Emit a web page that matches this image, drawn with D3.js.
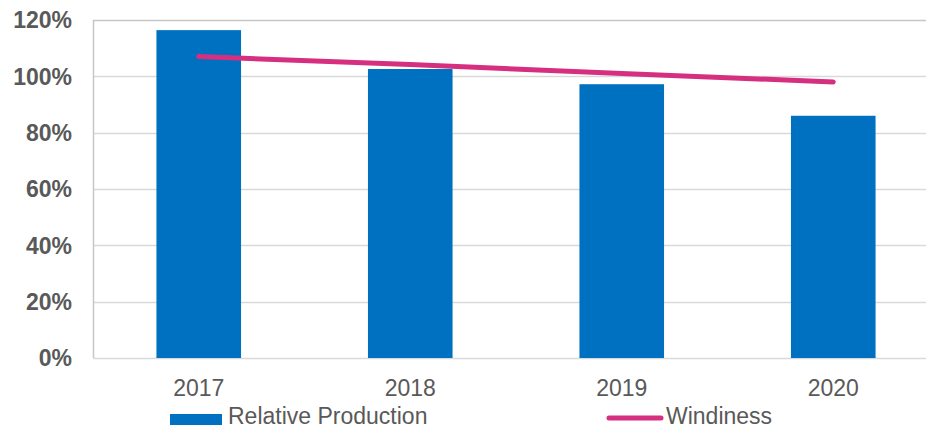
<!DOCTYPE html>
<html>
<head>
<meta charset="utf-8">
<script src="https://cdn.jsdelivr.net/npm/d3@7"></script>
<style>
  body { margin: 0; background: #fff; }
  svg { display: block; font-family: "Liberation Sans", Arial, sans-serif; }
</style>
</head>
<body>
<div id="chart"></div>
<script>
const years = ["2017", "2018", "2019", "2020"];
const relativeProduction = [116.4, 102.6, 97.2, 86.0];
const windiness = [107.0, 104.2, 101.0, 98.0];
const yTicks = [0, 20, 40, 60, 80, 100, 120];

const width = 926, height = 430;
const margin = { left: 93, right: -13, top: 20, bottom: 72 };

const svg = d3.select("#chart")
  .append("svg")
  .attr("width", width)
  .attr("height", height);

const x = d3.scaleBand()
  .domain(years)
  .range([margin.left, width - margin.right])
  .paddingInner(0.6)
  .paddingOuter(0.3);

const y = d3.scaleLinear()
  .domain([0, 120])
  .range([height - margin.bottom, margin.top]);

// gridlines
svg.append("g")
  .selectAll("line")
  .data(yTicks)
  .join("line")
  .attr("x1", margin.left)
  .attr("x2", width - margin.right)
  .attr("y1", d => Math.round(y(d)) + 0.5)
  .attr("y2", d => Math.round(y(d)) + 0.5)
  .attr("stroke", d => d === 120 ? "#c6c6c6" : "#d9d9d9")
  .attr("stroke-width", 1.5);

// left axis line
svg.append("line")
  .attr("x1", margin.left + 0.5)
  .attr("x2", margin.left + 0.5)
  .attr("y1", y(120))
  .attr("y2", y(0))
  .attr("stroke", "#c6c6c6")
  .attr("stroke-width", 1.5);

// y tick labels
svg.append("g")
  .selectAll("text")
  .data(yTicks)
  .join("text")
  .attr("x", 72)
  .attr("y", d => y(d))
  .attr("dy", "0.36em")
  .attr("text-anchor", "end")
  .attr("fill", "#595959")
  .style("font-size", "23px")
  .style("font-weight", "bold")
  .text(d => d + "%");

// bars
svg.append("g")
  .selectAll("rect")
  .data(years)
  .join("rect")
  .attr("x", d => x(d))
  .attr("width", x.bandwidth())
  .attr("y", (d, i) => y(relativeProduction[i]))
  .attr("height", (d, i) => y(0) - y(relativeProduction[i]))
  .attr("fill", "#0070c0");

// x labels
svg.append("g")
  .selectAll("text")
  .data(years)
  .join("text")
  .attr("x", d => x(d) + x.bandwidth() / 2)
  .attr("y", 396)
  .attr("text-anchor", "middle")
  .attr("fill", "#595959")
  .style("font-size", "23px")
  .text(d => d);

// windiness line
const line = d3.line()
  .x((d, i) => x(years[i]) + x.bandwidth() / 2)
  .y(d => y(d));

svg.append("path")
  .datum(windiness)
  .attr("fill", "none")
  .attr("stroke", "#d62f80")
  .attr("stroke-width", 5)
  .attr("stroke-linecap", "round")
  .attr("stroke-linejoin", "round")
  .attr("d", line);

// legend (kept a few px off the bottom edge so text isn't clipped)
const legend = svg.append("g");
legend.append("rect")
  .attr("x", 170).attr("y", 414)
  .attr("width", 52).attr("height", 11)
  .attr("fill", "#0070c0");
legend.append("text")
  .attr("x", 228).attr("y", 424)
  .attr("fill", "#595959")
  .style("font-size", "23px")
  .text("Relative Production");
legend.append("line")
  .attr("x1", 609).attr("x2", 661)
  .attr("y1", 418).attr("y2", 418)
  .attr("stroke", "#d62f80")
  .attr("stroke-width", 5)
  .attr("stroke-linecap", "round");
legend.append("text")
  .attr("x", 666).attr("y", 424)
  .attr("fill", "#595959")
  .style("font-size", "23px")
  .text("Windiness");
</script>
</body>
</html>
